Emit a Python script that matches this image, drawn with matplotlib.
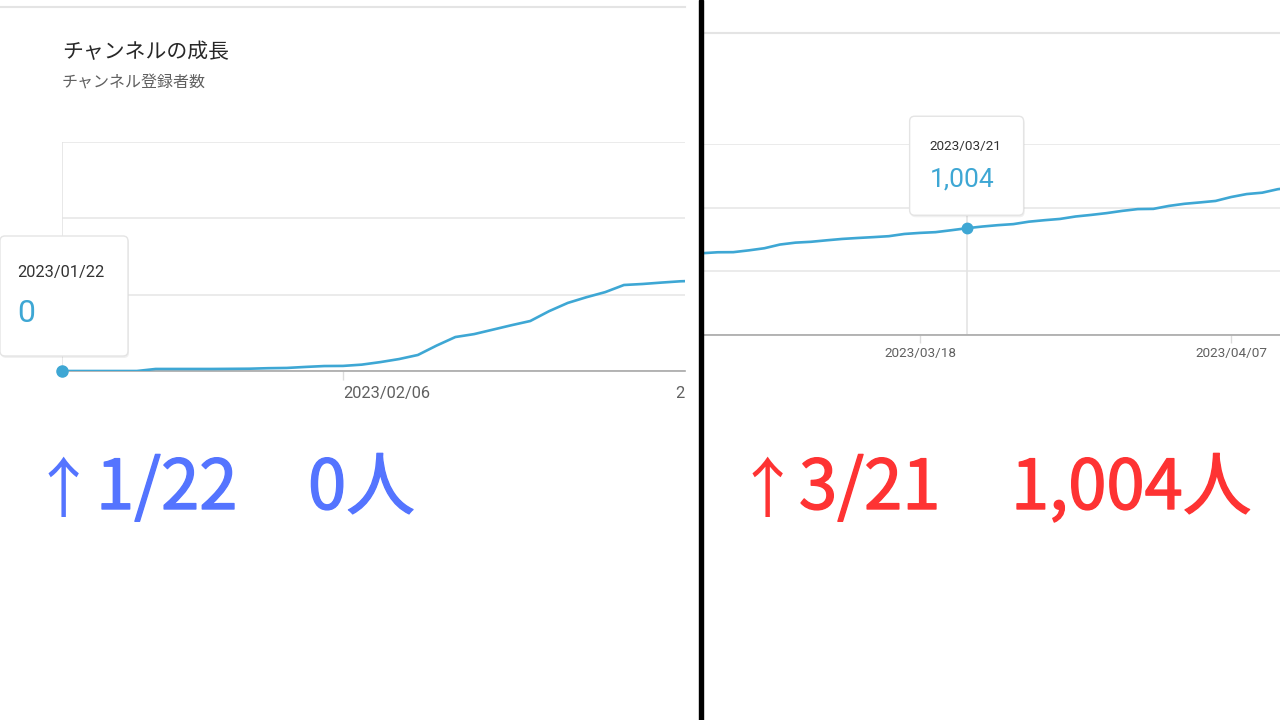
import matplotlib
matplotlib.use('Agg')
import matplotlib.pyplot as plt
import matplotlib.dates as mdates
import matplotlib.patheffects as pe
from matplotlib.patches import FancyBboxPatch, Rectangle
from matplotlib.transforms import Bbox
import pandas as pd

W, H = 1280, 720

# ---------------- data ----------------
left_dates = pd.date_range('2023-01-22', periods=35, freq='D')
left_subs = [0, 0, 0, 0, 0, 16, 16, 16, 16, 17, 18, 22, 24, 32, 39, 40, 50, 70,
             94, 126, 200, 267, 290, 325, 360, 393, 470, 535, 580, 620, 676,
             684, 695, 705, 710]
right_dates = pd.date_range('2023-03-03', periods=40, freq='D')
right_subs = [765, 768, 777, 778, 795, 815, 850, 868, 876, 890,
              903, 912, 920, 929, 950, 960, 967, 985, 1004, 1020,
              1033, 1043, 1066, 1080, 1092, 1115, 1130, 1147, 1168, 1185,
              1187, 1215, 1235, 1248, 1262, 1299, 1327, 1340, 1373, 1390]
y_ticks = [0, 600, 1200, 1800]
left_ticks = ['2023-02-06']
left_cut_label = '2023/02/23'
right_ticks = ['2023-03-18', '2023-04-07']
left_hover = '2023-01-22'
right_hover = '2023-03-21'
title = 'チャンネルの成長'
subtitle = 'チャンネル登録者数'
caption_left = '↑1/22　0人'
caption_right = '↑3/21　1,004人'

LINE = '#3ea7d4'
GRID = '#ebebeb'
AXIS = '#a8a8a8'
TICKC = '#606060'
CJK = ['Noto Sans CJK JP', 'DejaVu Sans']
NUM = ['Roboto', 'DejaVu Sans']

fig = plt.figure(figsize=(W / 100, H / 100), dpi=100)
fig.patch.set_facecolor('white')


def px_axes(l, t, r, b):
    return fig.add_axes([l / W, (H - b) / H, (r - l) / W, (b - t) / H])


def setup(ax, dates, subs, x0, x1, ticks, fs, tlen, pad, ha):
    ax.plot(dates, subs, color=LINE, lw=1.9, zorder=4, solid_joinstyle='round')
    ax.set_xlim(x0, x1)
    ax.set_ylim(y_ticks[0], y_ticks[-1])
    ax.set_yticks(y_ticks)
    ax.yaxis.grid(True, color=GRID, lw=1.4)
    ax.tick_params(axis='y', length=0, labelleft=False)
    for s in ['top', 'right', 'left']:
        ax.spines[s].set_visible(False)
    ax.spines['bottom'].set_color(AXIS)
    ax.spines['bottom'].set_linewidth(1.2)
    ax.set_xticks(pd.to_datetime(ticks))
    ax.xaxis.set_major_formatter(mdates.DateFormatter('%Y/%m/%d'))
    ax.tick_params(axis='x', length=tlen, width=1, color='#dcdcdc', pad=pad,
                   labelsize=fs, labelcolor=TICKC)
    for lbl in ax.get_xticklabels():
        lbl.set_family(NUM)
        lbl.set_ha(ha)
    ax.set_axisbelow(True)
    ax.patch.set_alpha(0)


# left chart
d0 = pd.Timestamp('2023-01-22')
ax1 = px_axes(62, 142, 685, 371)
setup(ax1, left_dates, left_subs, d0, d0 + pd.Timedelta(days=33.26), left_ticks,
      11.8, 6.5, 4.5, 'left')
ax1.annotate(left_cut_label, xy=(pd.Timestamp(left_cut_label.replace('/', '-')), 0),
             xycoords=('data', 'axes fraction'), xytext=(10, -16.5),
             textcoords='offset points', ha='left', va='center', fontsize=11.8,
             color=TICKC, family=NUM, annotation_clip=False)

# right chart
m18 = pd.Timestamp('2023-03-18')
ax2 = px_axes(704, 144, 1280, 334.5)
setup(ax2, right_dates, right_subs, m18 - pd.Timedelta(days=13.88),
      m18 + pd.Timedelta(days=23.14), right_ticks, 9.7, 5.8, 3.5, 'center')

# overlay in pixel space
ov = fig.add_axes([0, 0, 1, 1], zorder=10)
ov.set_xlim(0, W)
ov.set_ylim(H, 0)
ov.axis('off')
ov.patch.set_alpha(0)

# clip the cut tick label on the left chart at the panel edge
fig.canvas.draw()
clip = Bbox([[0, 0], [685, H]])
for t in ax1.texts:
    t.set_clip_on(True)
    t.set_clip_box(clip)


def hover(ax, dates, subs, when, box, dtxt, vtxt, fs_d, fs_v, dot):
    ts = pd.Timestamp(when)
    idx = list(dates).index(ts)
    val = subs[idx]
    ax.axvline(ts, color='#e2e2e2', lw=1.1, zorder=2)
    ax.plot([ts], [val], 'o', ms=dot, color=LINE, clip_on=False, zorder=6)
    disp = ax.transData.transform((mdates.date2num(ts), val))
    px, py = ov.transData.inverted().transform(disp)
    l, t, r, b = box
    ov.add_patch(FancyBboxPatch((px + l + 1, py + t + 2), r - l, b - t,
                                boxstyle='round,pad=0,rounding_size=5',
                                fc='#000000', ec='none', alpha=0.06, zorder=1))
    ov.add_patch(FancyBboxPatch((px + l, py + t), r - l, b - t,
                                boxstyle='round,pad=0,rounding_size=5',
                                fc='white', ec='#e4e4e4', lw=1, zorder=2))
    ov.text(px + dtxt[0], py + dtxt[1], ts.strftime('%Y/%m/%d'), fontsize=fs_d,
            color='#333333', family=NUM, ha='left', va='center', zorder=3)
    ov.text(px + vtxt[0], py + vtxt[1], f'{val:,}', fontsize=fs_v, color=LINE,
            family=NUM, ha='left', va='center', zorder=3)


hover(ax1, left_dates, left_subs, left_hover, (-62, -135, 66, -15),
      (-45, -98), (-45, -57), 11.8, 23, 8)
hover(ax2, right_dates, right_subs, right_hover, (-57, -112, 57, -13),
      (-37, -81.5), (-37, -48.5), 9.7, 19, 7.5)

# card borders and divider
ov.plot([0, 685], [7, 7], color='#e4e4e4', lw=1.5, zorder=1)
ov.plot([704, 1280], [33, 33], color='#e4e4e4', lw=1.5, zorder=1)
ov.add_patch(Rectangle((699, 0), 4, H, color='black', zorder=5))

# titles
ov.text(62, 52, title, fontsize=15, color='#282828', family=CJK, va='center', ha='left')
ov.text(62, 83, subtitle, fontsize=11.5, color='#606060', family=CJK, va='center', ha='left')

# captions: thin arrow, then date and count parts in slightly thickened text
BLUE = '#5474ff'
RED = '#fe3333'


def caption(x_arrow, x_date, x_count, s, color):
    date_part, count_part = s[1:].split('　')
    ov.text(x_arrow, 512, s[0], fontsize=47, color=color, family=CJK,
            weight='normal', va='baseline', ha='left')
    for x, part in ((x_date, date_part), (x_count, count_part)):
        ov.text(x, 509, part, fontsize=49.5, color=color, family=CJK,
                weight='normal', va='baseline', ha='left',
                path_effects=[pe.withStroke(linewidth=1.0, foreground=color)])


caption(31, 96, 308, caption_left, BLUE)
caption(735, 799, 1011, caption_right, RED)

fig.savefig('out.png', dpi=100, facecolor='white')
